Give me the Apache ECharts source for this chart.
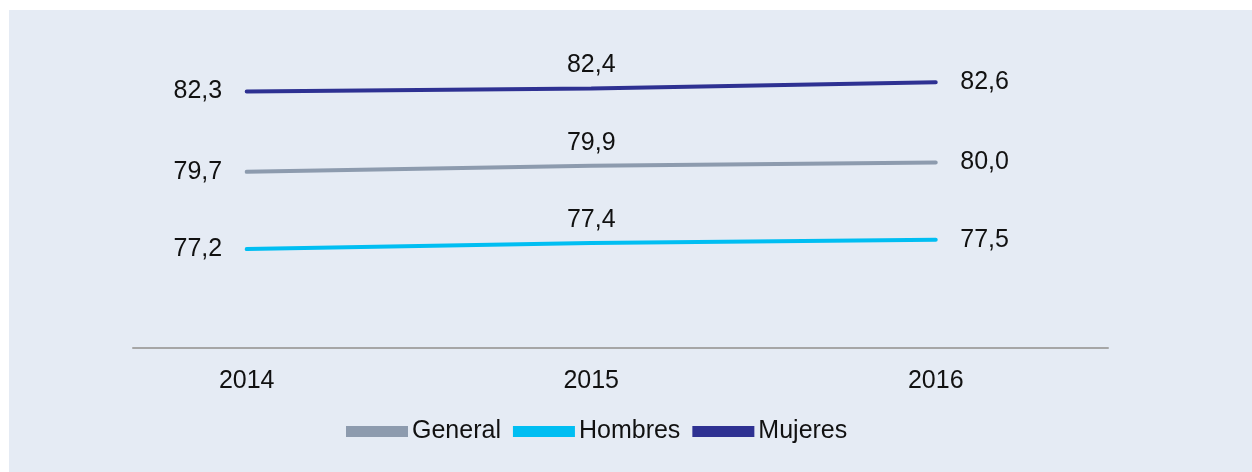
<!DOCTYPE html>
<html>
<head>
<meta charset="utf-8">
<script src="https://cdn.jsdelivr.net/npm/echarts@6/dist/echarts.min.js"></script>
<style>
  html, body { margin: 0; padding: 0; background: #ffffff; }
  #chart { position: absolute; left: 9px; top: 10px; width: 1243px; height: 462px; }
</style>
</head>
<body>
<div id="chart"></div>
<script>
const years = [2014, 2015, 2016];
const general = [79.7, 79.9, 80.0];
const hombres = [77.2, 77.4, 77.5];
const mujeres = [82.3, 82.4, 82.6];
const seriesNames = ["General", "Hombres", "Mujeres"];
const seriesColors = ["#8D9BAE", "#00BEF2", "#2E3192"];

const labelPositions = ["left", "top", "right"];

const fmt = (v) => v.toFixed(1).replace(".", ",");

const makeData = (values) =>
  values.map((v, i) => ({
    value: [years[i], v],
    label: { position: labelPositions[i], distance: i === 1 ? 10 : 24 },
  }));

const makeSeries = (name, values, color) => ({
  name,
  type: "line",
  data: makeData(values),
  symbol: "circle",
  symbolSize: 1,
  showSymbol: true,
  itemStyle: { color },
  lineStyle: { color, width: 4, cap: "round" },
  label: {
    show: true,
    color: "#111111",
    fontFamily: "Liberation Sans, Arial, sans-serif",
    fontSize: 25,
    formatter: (p) => fmt(p.value[1]),
  },
  animation: false,
});

const chart = echarts.init(document.getElementById("chart"));
chart.setOption({
  backgroundColor: "#E5EBF4",
  grid: { left: 124, right: 144, top: 29, bottom: 124 },
  xAxis: {
    type: "value",
    min: 2013.67,
    max: 2016.5,
    splitLine: { show: false },
    axisTick: { show: false },
    axisLine: { lineStyle: { color: "#A6A6A6", width: 2 } },
    axisLabel: {
      customValues: years,
      formatter: (v) => String(v),
      color: "#111111",
      fontFamily: "Liberation Sans, Arial, sans-serif",
      fontSize: 25,
      margin: 21,
    },
  },
  yAxis: {
    type: "value",
    min: 74,
    max: 84,
    show: false,
    splitLine: { show: false },
  },
  legend: {
    top: 404,
    left: 332,
    icon: "rect",
    itemWidth: 62,
    itemHeight: 11,
    itemGap: 12,
    data: seriesNames,
    textStyle: {
      color: "#111111",
      fontFamily: "Liberation Sans, Arial, sans-serif",
      fontSize: 25,
      padding: [0, 0, 0, -1],
    },
  },
  series: [
    makeSeries(seriesNames[0], general, seriesColors[0]),
    makeSeries(seriesNames[1], hombres, seriesColors[1]),
    makeSeries(seriesNames[2], mujeres, seriesColors[2]),
  ],
});
</script>
</body>
</html>
